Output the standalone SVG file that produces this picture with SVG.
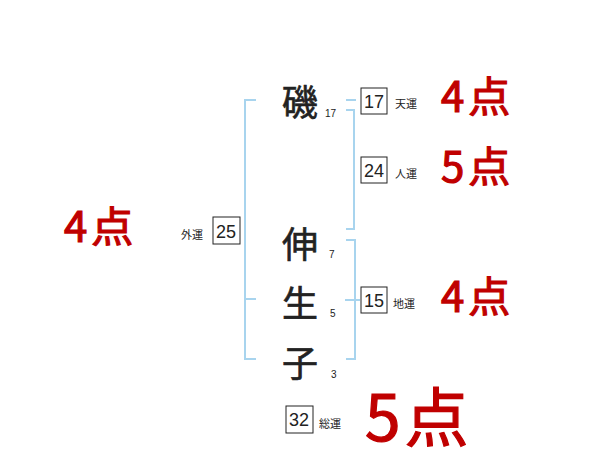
<svg xmlns="http://www.w3.org/2000/svg" width="600" height="470" viewBox="0 0 600 470">
<style>
.br{fill:none;stroke:#a8d4ee;stroke-width:2}
.box{fill:#fff;stroke:#222;stroke-width:1}
.num{font-family:"Liberation Sans","Noto Sans",sans-serif;font-size:18px;fill:#222;text-anchor:middle}
.lbl{font-family:"Noto Sans CJK JP",sans-serif;font-size:11px;fill:#222}
.big{font-family:"Noto Sans CJK JP",sans-serif;font-size:36px;fill:#222;text-anchor:middle;stroke:#222;stroke-width:0.6}
.sm{font-family:"Liberation Sans",sans-serif;font-size:10px;fill:#222}
.score{font-family:"Noto Sans CJK JP",sans-serif;fill:#c00000;stroke:#c00000;stroke-width:1.2;letter-spacing:4px}
</style>
<rect width="600" height="470" fill="#fff"/>
<g id="connectors">
<path class="br" d="M256,100 H245 V359 H256 M245,299 H256"/>
<path class="br" d="M346,100 H356 M346,110 H354 V229 H346"/>
<path class="br" d="M346,240 H355 V359 H346 M345,300 H360"/>
</g>
<g id="char1"><text class="big" x="300" y="116">磯</text><text class="sm" x="325" y="117">17</text></g>
<g id="char2"><text class="big" x="300" y="258">伸</text><text class="sm" x="329" y="258">7</text></g>
<g id="char3"><text class="big" x="300" y="317">生</text><text class="sm" x="330" y="317">5</text></g>
<g id="char4"><text class="big" x="300" y="377">子</text><text class="sm" x="331" y="378">3</text></g>
<g id="tenun"><rect class="box" x="361" y="88" width="26" height="26"/><text class="num" x="374" y="108">17</text><text class="lbl" x="395" y="108">天運</text></g>
<g id="jinun"><rect class="box" x="361" y="157" width="26" height="26"/><text class="num" x="374" y="177">24</text><text class="lbl" x="395" y="178">人運</text></g>
<g id="chiun"><rect class="box" x="361" y="287" width="26" height="26"/><text class="num" x="374" y="307">15</text><text class="lbl" x="393" y="308">地運</text></g>
<g id="gaiun"><rect class="box" x="213" y="217" width="27" height="27"/><text class="num" x="226" y="238">25</text><text class="lbl" x="181" y="239">外運</text></g>
<g id="souun"><rect class="box" x="286" y="406" width="27" height="27"/><text class="num" x="299" y="426">32</text><text class="lbl" x="319" y="428">総運</text></g>
<g id="score1"><text class="score" x="441" y="112" font-size="42">4点</text></g>
<g id="score2"><text class="score" x="441" y="182" font-size="42">5点</text></g>
<g id="score3"><text class="score" x="441" y="312" font-size="42">4点</text></g>
<g id="score4"><text class="score" x="64" y="242" font-size="42">4点</text></g>
<g id="score5"><text class="score" x="365" y="441" font-size="64" letter-spacing="10" stroke-width="1.8">5点</text></g>
</svg>
